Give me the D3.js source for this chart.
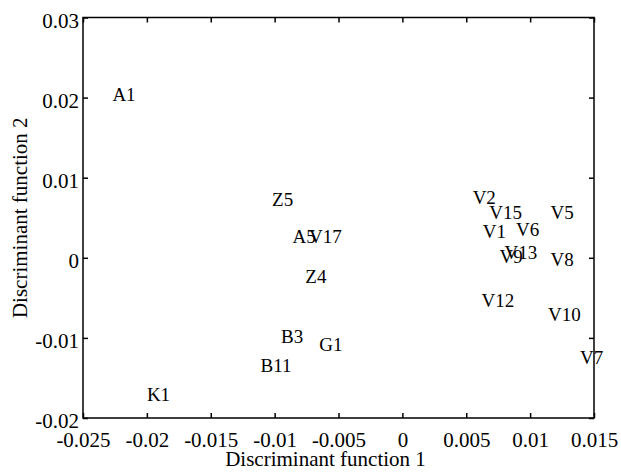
<!DOCTYPE html>
<html>
<head>
<meta charset="utf-8">
<script src="https://cdn.jsdelivr.net/npm/d3@7"></script>
<style>
  body { margin: 0; background: #fff; }
  svg text { font-family: "Liberation Serif", "Times New Roman", serif; fill: #000; }
</style>
</head>
<body>
<div id="chart"></div>
<script>
(function(){
  // sample labels and their discriminant scores
  var labels = ["A1","Z5","A5","V17","Z4","B3","G1","B11","K1",
                "V2","V15","V5","V1","V6","V9","V13","V8","V12","V10","V7"];
  var df1 = [-0.0227,-0.0102,-0.0086,-0.0073,-0.0076,-0.0095,-0.0065,-0.0111,-0.0200,
             0.0055,0.0068,0.0116,0.0063,0.0089,0.0076,0.0080,0.0116,0.0062,0.0114,0.0139];
  var df2 = [0.0203,0.0072,0.0026,0.0026,-0.0024,-0.0099,-0.0109,-0.0135,-0.0171,
             0.0075,0.0056,0.0056,0.0032,0.0035,0.0001,0.0006,-0.0003,-0.0053,-0.0071,-0.0125];

  var xTicks = [-0.025,-0.02,-0.015,-0.01,-0.005,0,0.005,0.01,0.015];
  var yTicks = [-0.02,-0.01,0,0.01,0.02,0.03];

  var width = 621, height = 472;
  var margin = {top: 17.5, right: 27, bottom: 54, left: 83};
  var w = width - margin.left - margin.right,
      h = height - margin.top - margin.bottom;

  var svg = d3.select("#chart")
    .append("svg")
      .attr("width", width)
      .attr("height", height)
    .append("g")
      .attr("transform", "translate(" + margin.left + "," + margin.top + ")");

  var x = d3.scaleLinear().domain([-0.025, 0.015]).range([0, w]);
  var y = d3.scaleLinear().domain([-0.02, 0.03]).range([h, 0]);

  // plain hyphen minus like the original figure
  var fmt = function(d) { return d === 0 ? "0" : String(+d.toFixed(3)); };

  // bottom axis, ticks pointing inward
  var gx = svg.append("g")
    .attr("transform", "translate(0," + h + ")")
    .call(d3.axisBottom(x).tickValues(xTicks).tickFormat(fmt).tickSize(-5).tickSizeOuter(0).tickPadding(14));
  // left axis
  var gy = svg.append("g")
    .call(d3.axisLeft(y).tickValues(yTicks).tickFormat(fmt).tickSize(-5).tickSizeOuter(0).tickPadding(4));
  // top and right, ticks only
  var gt = svg.append("g")
    .call(d3.axisTop(x).tickValues(xTicks).tickFormat("").tickSize(-5).tickSizeOuter(0));
  var gr = svg.append("g")
    .attr("transform", "translate(" + w + ",0)")
    .call(d3.axisRight(y).tickValues(yTicks).tickFormat("").tickSize(-5).tickSizeOuter(0));

  [gx, gy, gt, gr].forEach(function(g) {
    g.select(".domain").remove();
    g.selectAll(".tick line").attr("stroke", "#000").attr("stroke-width", 1.5);
    g.selectAll("text").style("font-size", "21px").attr("fill", "#000");
  });
  gy.selectAll(".tick text").attr("dy", "0.47em");

  // box
  svg.append("rect")
    .attr("width", w)
    .attr("height", h)
    .attr("fill", "none")
    .attr("stroke", "#000")
    .attr("stroke-width", 1.5);

  // axis titles
  svg.append("text")
    .attr("text-anchor", "middle")
    .attr("x", w / 2 - 13)
    .attr("y", h + 48)
    .style("font-size", "21px")
    .text("Discriminant function 1");

  svg.append("text")
    .attr("text-anchor", "middle")
    .attr("transform", "translate(-56," + (h / 2) + ")rotate(-90)")
    .style("font-size", "21px")
    .text("Discriminant function 2");

  // point labels, left aligned and vertically centred on the point
  var pts = labels.map(function(l, i) { return {name: l, a: df1[i], b: df2[i]}; });
  svg.selectAll("text.pt")
    .data(pts)
    .join("text")
    .attr("class", "pt")
    .attr("x", function(d) { return x(d.a); })
    .attr("y", function(d) { return y(d.b); })
    .attr("dy", "0.33em")
    .style("font-size", "19px")
    .text(function(d) { return d.name; });
})();
</script>
</body>
</html>
